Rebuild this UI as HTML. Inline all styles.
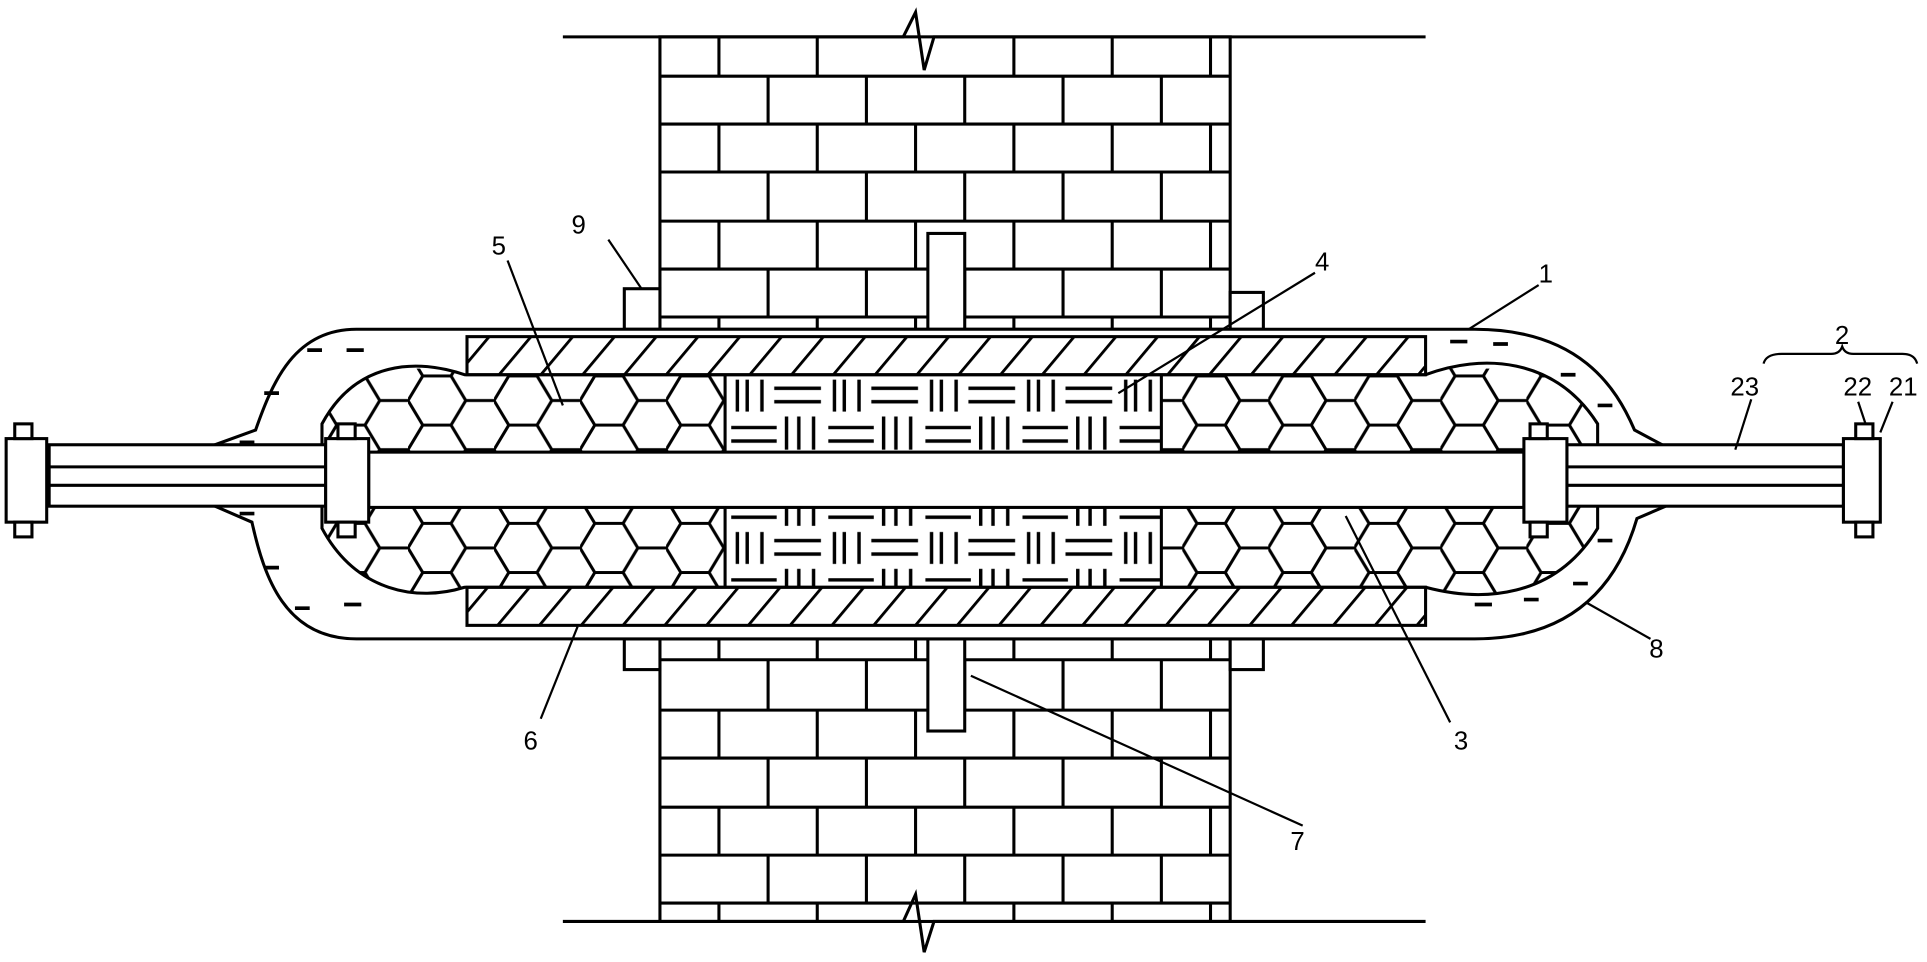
<!DOCTYPE html>
<html><head><meta charset="utf-8"><style>html,body{margin:0;padding:0;background:#fff}svg{display:block}</style></head>
<body>
<svg width="1927" height="962" viewBox="0 0 1568 783" preserveAspectRatio="none" xmlns="http://www.w3.org/2000/svg">
<defs>
<pattern id="hex" patternUnits="userSpaceOnUse" width="70" height="40" x="262" y="306">
<path d="M0 20L12 0L35 0L47 20L35 40L12 40Z M47 20H70" fill="none" stroke="#000" stroke-width="2.5"/>
</pattern>
<pattern id="hatch" patternUnits="userSpaceOnUse" width="34" height="34" patternTransform="skewX(-40)" x="380" y="0">
<line x1="10" y1="0" x2="10" y2="34" stroke="#000" stroke-width="3"/>
</pattern>
<pattern id="cross" patternUnits="userSpaceOnUse" width="79" height="62" x="592" y="306">
<g stroke="#000" stroke-width="2.8">
<line x1="8" y1="3" x2="8" y2="29"/><line x1="16" y1="3" x2="16" y2="29"/><line x1="28" y1="3" x2="28" y2="29"/>
<line x1="38" y1="10" x2="76" y2="10"/><line x1="38" y1="21" x2="76" y2="21"/>
<line x1="3" y1="42" x2="40" y2="42"/><line x1="3" y1="53" x2="40" y2="53"/>
<line x1="48" y1="33" x2="48" y2="60"/><line x1="58" y1="33" x2="58" y2="60"/><line x1="70" y1="33" x2="70" y2="60"/>
</g>
</pattern>
<clipPath id="inner"><path d="M378 305 C340 292 290 293 262 345 L262 430 C290 482 340 490 378 478 L1160 478 C1205 490 1265 488 1300 430 L1300 345 C1265 290 1205 288 1160 305 Z"/></clipPath>
</defs>
<g fill="#fff" stroke="#000" stroke-width="2.5">
<rect x="537" y="30" width="464" height="238"/>
<rect x="537" y="520" width="464" height="230"/>
</g>
<g stroke="#000" stroke-width="2.5" fill="none">
<path d="M537 62H1001M537 101H1001M537 140H1001M537 180H1001M537 219H1001M537 258H1001"/>
<path d="M585 30V62M665 30V62M825 30V62M905 30V62M985 30V62"/>
<path d="M625 62V101M705 62V101M785 62V101M865 62V101M945 62V101"/>
<path d="M585 101V140M665 101V140M745 101V140M825 101V140M905 101V140M985 101V140"/>
<path d="M625 140V180M705 140V180M785 140V180M865 140V180M945 140V180"/>
<path d="M585 180V219M665 180V219M745 180V219M825 180V219M905 180V219M985 180V219"/>
<path d="M625 219V258M705 219V258M785 219V258M865 219V258M945 219V258"/>
<path d="M585 258V268M665 258V268M745 258V268M825 258V268M905 258V268M985 258V268"/>
<path d="M537 537H1001M537 578H1001M537 617H1001M537 657H1001M537 696H1001M537 735H1001"/>
<path d="M585 520V537M665 520V537M745 520V537M825 520V537M905 520V537M985 520V537"/>
<path d="M625 537V578M705 537V578M785 537V578M865 537V578M945 537V578"/>
<path d="M585 578V617M665 578V617M745 578V617M825 578V617M905 578V617M985 578V617"/>
<path d="M625 617V657M705 617V657M785 617V657M865 617V657M945 617V657"/>
<path d="M585 657V696M665 657V696M745 657V696M825 657V696M905 657V696M985 657V696"/>
<path d="M625 696V735M705 696V735M785 696V735M865 696V735M945 696V735"/>
<path d="M585 735V750M665 735V750M825 735V750M905 735V750M985 735V750"/>
</g>
<g fill="none" stroke="#000" stroke-width="2.5">
<path d="M458 30 H735 L745 10 L752 57 L760 30 H1160"/>
<path d="M458 750 H735 L745 728 L752 775 L760 750 H1160"/>
</g>
<g fill="#fff" stroke="#000" stroke-width="2.5">
<rect x="755" y="190" width="30" height="78"/>
<rect x="755" y="520" width="30" height="75"/>
<rect x="508" y="235" width="29" height="33"/>
<rect x="1001" y="238" width="27" height="30"/>
<rect x="508" y="520" width="29" height="25"/>
<rect x="1001" y="520" width="27" height="25"/>
<path d="M290 268 L1200 268 C1285 268 1315 315 1330 350 L1360 366 L1360 410 L1332 422 C1318 470 1285 520 1200 520 L290 520 C232 520 215 470 205 425 L175 412 L175 362 L208 350 C222 310 240 268 290 268 Z"/>
</g>
<g clip-path="url(#inner)">
<rect x="255" y="300" width="340" height="185" fill="url(#hex)"/>
<rect x="945" y="300" width="360" height="185" fill="url(#hex)"/>
<rect x="590" y="305" width="355" height="175" fill="#fff"/>
<rect x="590" y="305" width="355" height="175" fill="url(#cross)"/>
</g>
<path d="M378 305 C340 292 290 293 262 345 L262 430 C290 482 340 490 378 478 L1160 478 C1205 490 1265 488 1300 430 L1300 345 C1265 290 1205 288 1160 305 Z" fill="none" stroke="#000" stroke-width="2.5"/>
<g stroke="#000" stroke-width="2.5">
<line x1="590" y1="305" x2="590" y2="478"/><line x1="945" y1="305" x2="945" y2="478"/>
</g>
<rect x="380" y="274" width="780" height="31" fill="url(#hatch)" stroke="#000" stroke-width="2.5"/>
<rect x="380" y="478" width="780" height="31" fill="url(#hatch)" stroke="#000" stroke-width="2.5"/>
<g stroke="#000" stroke-width="3">
<path d="M250 285h12M282 285h14M215 320h12M195 360h12M195 418h12M215 462h12M240 495h12M280 492h14"/>
<path d="M1180 278h14M1215 280h12M1270 305h12M1300 330h12M1300 440h12M1280 475h12M1200 492h14M1240 488h12"/>
</g>
<g fill="#fff" stroke="#000" stroke-width="2.5">
<rect x="40" y="362" width="225" height="50"/>
<rect x="1275" y="362" width="225" height="50"/>
<rect x="300" y="368" width="940" height="45"/>
<rect x="265" y="357" width="35" height="68"/>
<rect x="1240" y="357" width="35" height="68"/>
<rect x="5" y="357" width="33" height="68"/>
<rect x="1500" y="357" width="30" height="68"/>
<rect x="12" y="345" width="14" height="12"/><rect x="12" y="425" width="14" height="12"/>
<rect x="275" y="345" width="14" height="12"/><rect x="275" y="425" width="14" height="12"/>
<rect x="1245" y="345" width="14" height="12"/><rect x="1245" y="425" width="14" height="12"/>
<rect x="1510" y="345" width="14" height="12"/><rect x="1510" y="425" width="14" height="12"/>
</g>
<g stroke="#000" stroke-width="2.5">
<line x1="38" y1="380" x2="265" y2="380"/><line x1="38" y1="395" x2="265" y2="395"/>
<line x1="1275" y1="380" x2="1500" y2="380"/><line x1="1275" y1="395" x2="1500" y2="395"/>
</g>
<g stroke="#000" stroke-width="1.8" fill="none">
<line x1="495" y1="195" x2="522" y2="235"/>
<line x1="413" y1="212" x2="458" y2="330"/>
<line x1="1070" y1="222" x2="910" y2="320"/>
<line x1="1252" y1="232" x2="1195" y2="268"/>
<path d="M1435 296 Q1437 288 1450 288 H1490 Q1497 288 1499 282 Q1501 288 1508 288 H1548 Q1558 288 1560 296"/>
<line x1="1425" y1="325" x2="1412" y2="366"/>
<line x1="1512" y1="327" x2="1518" y2="345"/>
<line x1="1540" y1="327" x2="1530" y2="352"/>
<line x1="1180" y1="588" x2="1095" y2="420"/>
<line x1="1343" y1="520" x2="1290" y2="490"/>
<line x1="440" y1="585" x2="470" y2="510"/>
<line x1="1060" y1="672" x2="790" y2="550"/>
</g>
<g font-family="Liberation Sans, sans-serif" font-size="21" fill="#000">
<text x="465" y="190">9</text>
<text x="400" y="207">5</text>
<text x="1070" y="220">4</text>
<text x="1252" y="230">1</text>
<text x="1493" y="280">2</text>
<text x="1408" y="322">23</text>
<text x="1500" y="322">22</text>
<text x="1537" y="322">21</text>
<text x="1183" y="610">3</text>
<text x="1342" y="535">8</text>
<text x="426" y="610">6</text>
<text x="1050" y="692">7</text>
</g>
</svg>
</body></html>
